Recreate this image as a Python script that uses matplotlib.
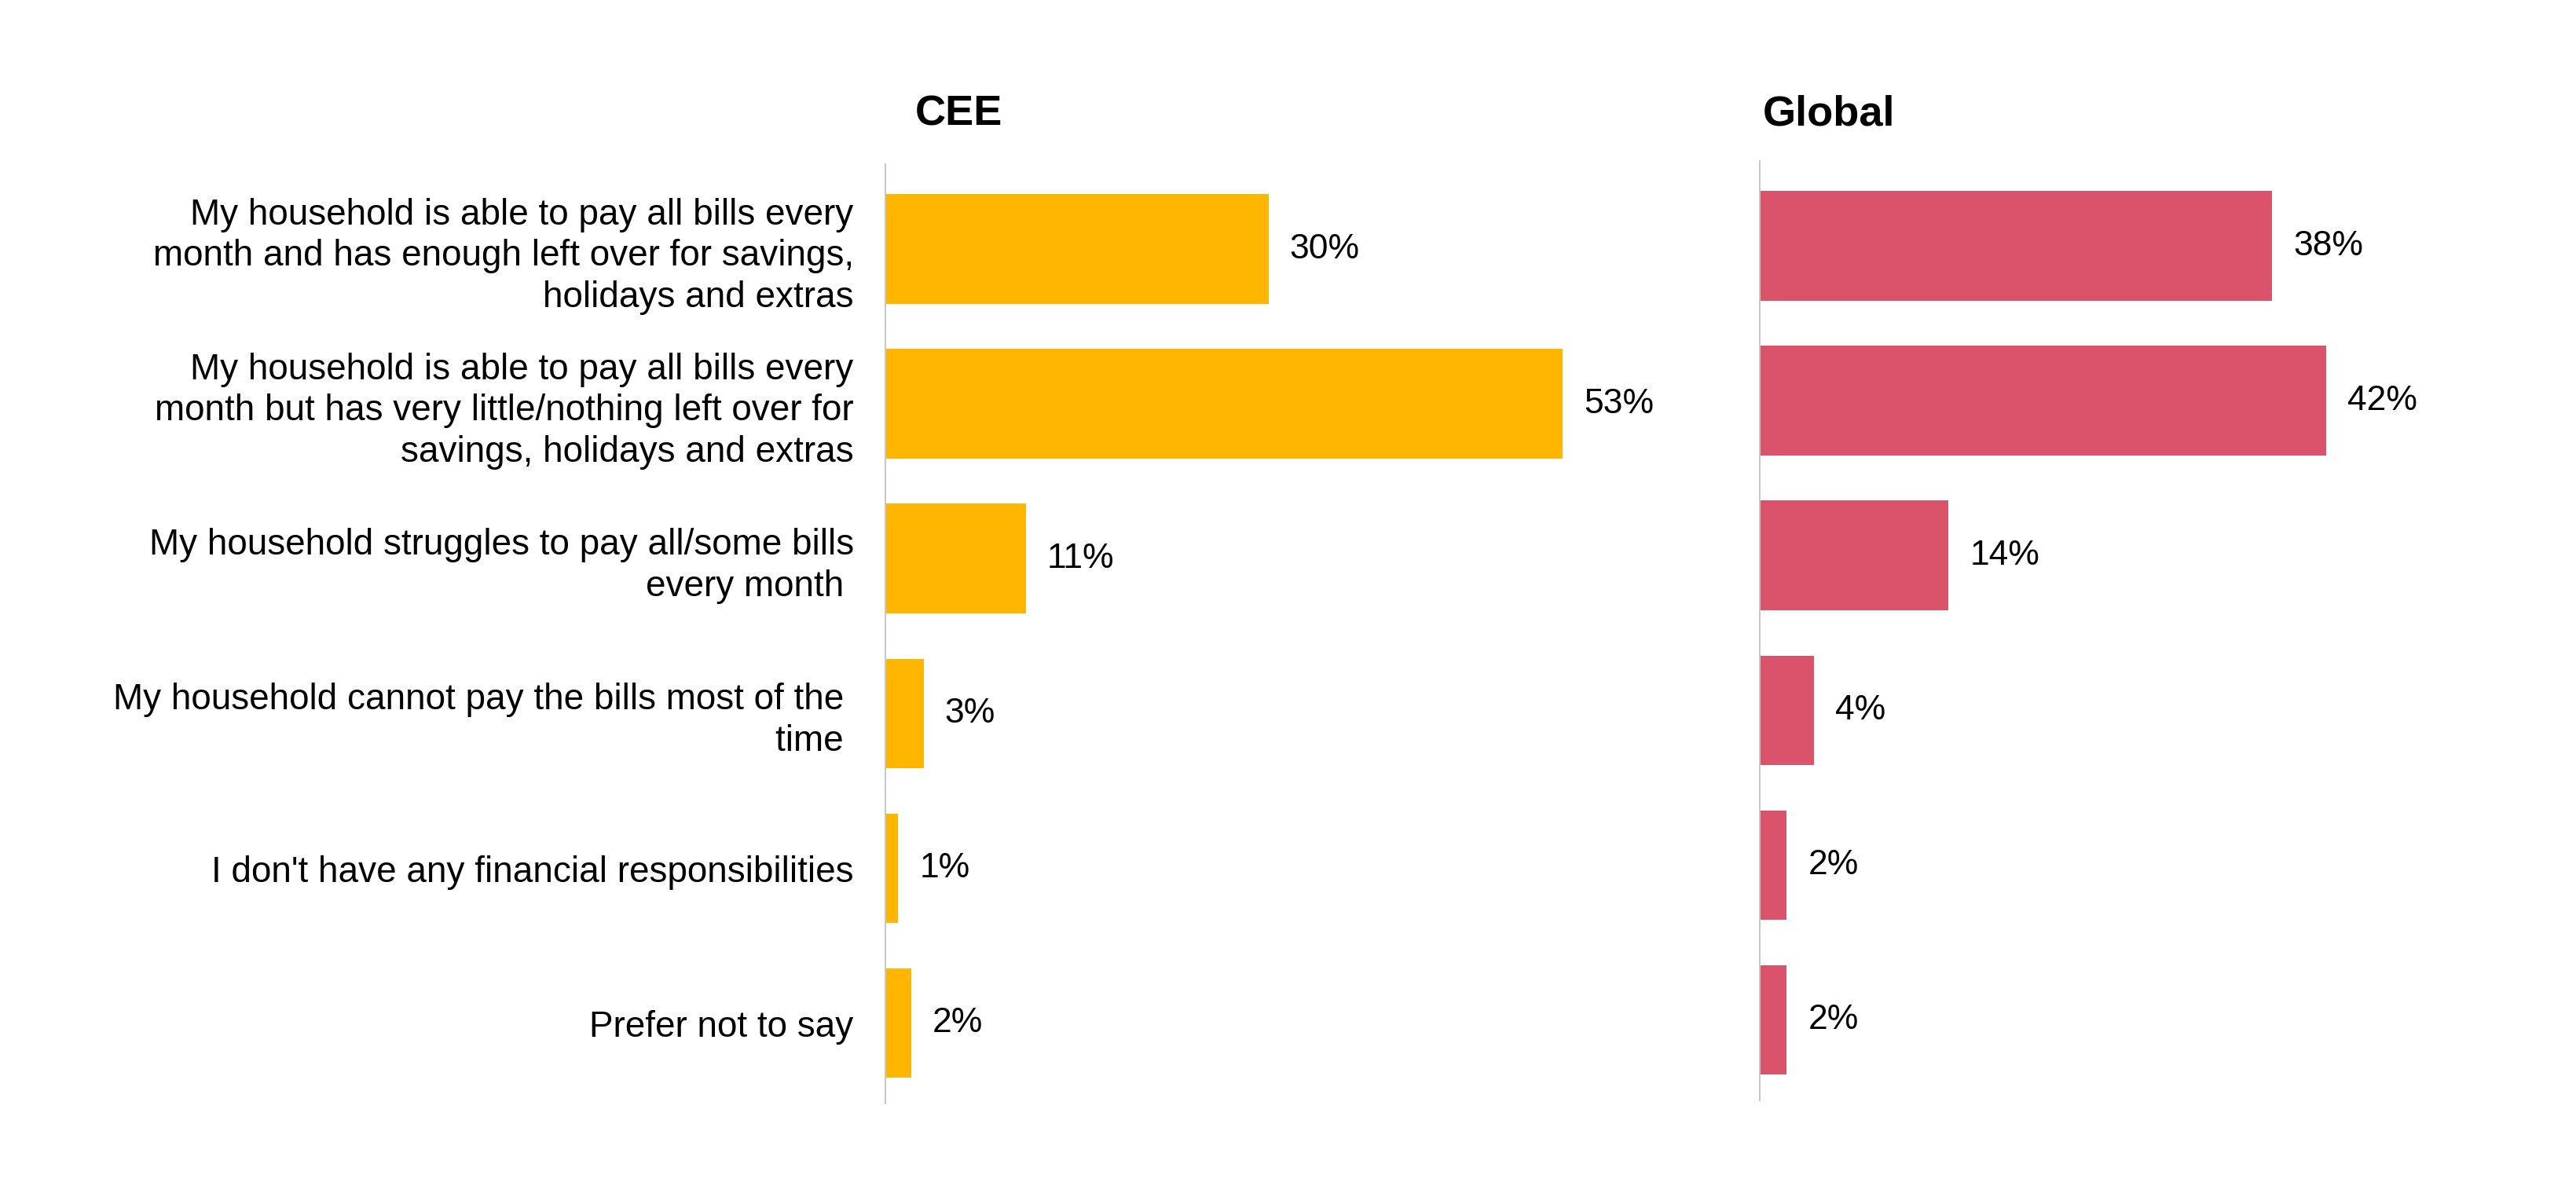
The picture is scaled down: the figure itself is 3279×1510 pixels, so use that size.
import matplotlib
matplotlib.use("Agg")
import matplotlib.pyplot as plt

# Data
categories = [
    "My household is able to pay all bills every\nmonth and has enough left over for savings,\nholidays and extras",
    "My household is able to pay all bills every\nmonth but has very little/nothing left over for\nsavings, holidays and extras",
    "My household struggles to pay all/some bills\nevery month ",
    "My household cannot pay the bills most of the \ntime ",
    "I don't have any financial responsibilities",
    "Prefer not to say",
]
cee_values = [30, 53, 11, 3, 1, 2]
global_values = [38, 42, 14, 4, 2, 2]
panel_titles = ["CEE", "Global"]

CEE_COLOR = "#FFB600"
GLOBAL_COLOR = "#DB536A"

plt.rcParams["font.family"] = ["Liberation Sans", "DejaVu Sans"]

W, H = 3279, 1510
fig = plt.figure(figsize=(W / 100, H / 100), dpi=100)


def px_axes(left, right, top, bottom):
    return fig.add_axes([left / W, 1 - bottom / H, (right - left) / W, (bottom - top) / H])


def draw_panel(ax, values, color, title, xmax, show_labels, title_pos):
    y = range(len(values))
    ax.barh(y, values, height=0.71, color=color)
    ax.set_xlim(0, xmax)
    ax.set_ylim(len(values) - 0.48, -0.55)
    for s in ["top", "right", "bottom"]:
        ax.spines[s].set_visible(False)
    ax.spines["left"].set_color("#C8C8C8")
    ax.spines["left"].set_linewidth(1.5)
    ax.set_xticks([])
    ax.tick_params(axis="y", length=0, pad=29)
    ax.set_yticks(list(y))
    if show_labels:
        ax.set_yticklabels(categories, fontsize=33, linespacing=1.24)
    else:
        ax.set_yticklabels([])
    for i, v in enumerate(values):
        ax.annotate(f"{v}%", (v, i), xytext=(27, 0), textcoords="offset pixels",
                    va="center", ha="left", fontsize=32)
    ax.text(title_pos[0], title_pos[1], title, transform=ax.transAxes, fontsize=39,
            fontweight="bold", ha="left", va="center")


ax1 = px_axes(1127, 2100, 209, 1405)
ax2 = px_axes(2240, 3150, 205, 1401)

draw_panel(ax1, cee_values, CEE_COLOR, panel_titles[0], (2100 - 1127) / 16.26, True,
           (38 / 973, 1 + 63 / 1196))
draw_panel(ax2, global_values, GLOBAL_COLOR, panel_titles[1], (3150 - 2240) / 17.17, False,
           (4 / 910, 1 + 59 / 1196))

fig.savefig("out.png", dpi=100, facecolor="white")
